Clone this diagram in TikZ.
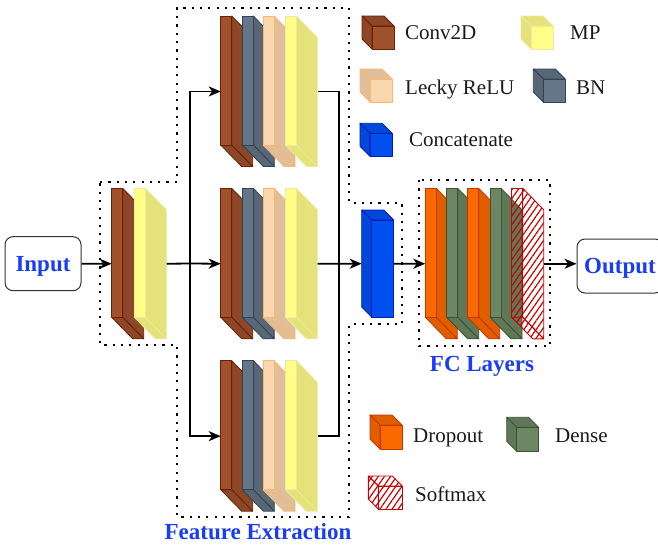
\documentclass[tikz,border=0pt]{standalone}
\usepackage{fontspec}
\setmainfont{Liberation Serif}
\usetikzlibrary{positioning, arrows.meta, patterns.meta}

\definecolor{convfill}{HTML}{A0522D}  \definecolor{convline}{HTML}{6D1F00}
\definecolor{bnfill}{HTML}{647687}    \definecolor{bnline}{HTML}{314354}
\definecolor{relufill}{HTML}{FAD7AC}  \definecolor{reluline}{HTML}{FFB570}
\definecolor{mpfill}{HTML}{FFFF88}    \definecolor{mpline}{HTML}{F2E6A0}
\definecolor{catfill}{HTML}{0050EF}   \definecolor{catline}{HTML}{001DBC}
\definecolor{dropfill}{HTML}{FA6800}  \definecolor{dropline}{HTML}{C73500}
\definecolor{densefill}{HTML}{6D8764} \definecolor{denseline}{HTML}{3A5431}
\definecolor{softline}{HTML}{CC0000}
\definecolor{labelblue}{HTML}{1A3CF5}
\definecolor{keytext}{HTML}{1A1A1A}
\definecolor{iobox}{HTML}{333333}

% thin slab: front face, then side and bottom faces running down to the right
\newcommand{\layerblock}[4]{%
  \node[inner sep=0pt, minimum width=32pt, minimum height=150.5pt, anchor=north west] (#1) at (#2,#3) {};
  \path[#4 side] (#2+11,#3) -- ++(21,21.5) -- ++(0,129) -- ++(-21,-21.5) -- cycle;
  \path[#4 side] (#2,#3+129) -- ++(11,0) -- ++(21,21.5) -- ++(-11,0) -- cycle;
  \path[#4 front] (#2,#3) rectangle ++(11,129);
}
% cube with shaded top and left faces
\newcommand{\cubeblock}[6]{%
  \node[inner sep=0pt, minimum width=#4pt, minimum height=#5pt, anchor=north west] (#1) at (#2,#3) {};
  \path[#6 side] (#2,#3) -- ++(#4-10,0) -- ++(10,10) -- ++(10-#4,0) -- cycle;
  \path[#6 side] (#2,#3) -- ++(10,10) -- ++(0,#5-10) -- ++(-10,-10) -- cycle;
  \path[#6 front] (#2+10,#3+10) rectangle ++(#4-10,#5-10);
}

\begin{document}
\begin{tikzpicture}[
    x=1pt, y=-1pt,
    face/.style 2 args={fill=#1, draw=#2, line width=0.8pt, line join=round},
    conv front/.style={face={convfill}{convline}},
    conv side/.style={face={convfill!87!black}{convline}},
    bn front/.style={face={bnfill}{bnline}},
    bn side/.style={face={bnfill!87!black}{bnline}},
    relu front/.style={face={relufill}{reluline}},
    relu side/.style={face={relufill!89!black}{reluline}},
    mp front/.style={face={mpfill}{mpline}},
    mp side/.style={face={mpfill!89!black}{mpline}},
    cat front/.style={face={catfill}{catline}},
    cat side/.style={face={catfill!90!black}{catline}},
    drop front/.style={face={dropfill}{dropline}},
    drop side/.style={face={dropfill!90!black}{dropline}},
    dense front/.style={face={densefill}{denseline}},
    dense side/.style={face={densefill!88!black}{denseline}},
    soft front/.style={pattern={Lines[angle=55, distance=5pt, line width=1.2pt]}, pattern color=softline, draw=softline, line width=0.9pt, line join=round},
    soft side/.style={soft front},
    fence/.style={line width=2.2pt, dash pattern=on 2.2pt off 6.1pt},
    wire/.style={line width=1.8pt},
    link/.style={wire, -{Stealth[length=12pt, width=10pt, inset=3.5pt]}},
    io/.style={draw=iobox, line width=1pt, rounded corners=8pt, minimum width=76pt, minimum height=54pt, inner sep=0pt,
        font=\fontsize{23}{27}\selectfont\bfseries, text=labelblue, text height=15pt, text depth=0pt},
    title/.style={anchor=base, inner sep=0pt, font=\fontsize{23}{27}\selectfont\bfseries, text=labelblue},
    key/.style={anchor=base west, inner sep=0pt, font=\fontsize{21}{24}\selectfont, text=keytext}
]
\clip (0,0) rectangle (658,546);

% dotted outlines
\draw[fence] (100,182) -- (177,182) -- (177,8) -- (349,8) -- (349,203) -- (402,203) -- (402,324)
    -- (349,324) -- (349,517) -- (177,517) -- (177,345) -- (100,345) -- cycle;
\draw[fence] (419,180) rectangle (550,346);

% input stage
\node[io] (in) at (43,263.7) {Input};
\layerblock{cv0}{111.7}{188.3}{conv}
\layerblock{mp0}{134.3}{188.3}{mp}

% three parallel branches
\foreach \row/\ytop in {1/16, 2/188.3, 3/360.7} {
  \layerblock{cv\row}{220.7}{\ytop}{conv}
  \layerblock{bn\row}{242.3}{\ytop}{bn}
  \layerblock{lr\row}{263}{\ytop}{relu}
  \layerblock{mp\row}{285.3}{\ytop}{mp}
}
\coordinate (fork) at (190,263.5);
\coordinate (join) at (339,263.5);

\cubeblock{cat}{361.7}{210}{32}{107}{cat}

% fully connected head
\layerblock{dr1}{425.3}{188.3}{drop}
\layerblock{dn1}{446.7}{188.3}{dense}
\layerblock{dr2}{467.7}{188.3}{drop}
\layerblock{dn2}{490}{188.3}{dense}
\layerblock{sm}{511.7}{188.3}{soft}

\node[io, minimum width=86pt] (out) at (620,266) {Output};

% connectors
\draw[link] (in.east) -- (cv0.west);
\draw[wire] (mp0.east) -- (fork);
\draw[link] (fork) |- (cv1.west);
\draw[link] (fork) -- (cv2.west);
\draw[link] (fork) |- (cv3.west);
\draw[wire] (mp1.east) -| (join);
\draw[wire] (mp3.east) -| (join);
\draw[link] (mp2.east) -- (cat.west);
\draw[link] (cat.east) -- (dr1.west);
\draw[link] (sm.east) -- (sm.east -| out.west);

\node[title] (fetitle) at (258,539.3) {Feature Extraction};
\node[title] (fctitle) at (482,371.7) {FC Layers};

% legend
\cubeblock{kconv}{362}{16}{32}{33}{conv}
\node[key] (tconv) at (405,39.3) {Conv2D};
\cubeblock{kmp}{521}{16}{32}{33}{mp}
\node[key] (tmp) at (570,39.3) {MP};
\cubeblock{krelu}{360}{69}{32}{33}{relu}
\node[key] (trelu) at (405,94) {Lecky ReLU};
\cubeblock{kbn}{533.3}{69}{32}{33}{bn}
\node[key] (tbn) at (576,94) {BN};
\cubeblock{kcat}{360}{123.3}{32}{33}{cat}
\node[key] (tcat) at (409,146.7) {Concatenate};
\cubeblock{kdrop}{370}{415}{32}{34}{drop}
\node[key] (tdrop) at (413,442.7) {Dropout};
\cubeblock{kdense}{506.7}{417.3}{32}{34}{dense}
\node[key] (tdense) at (555,442.7) {Dense};
\cubeblock{ksoft}{368.3}{476}{34}{33}{soft}
\node[key] (tsoft) at (415,501.7) {Softmax};
\end{tikzpicture}
\end{document}
